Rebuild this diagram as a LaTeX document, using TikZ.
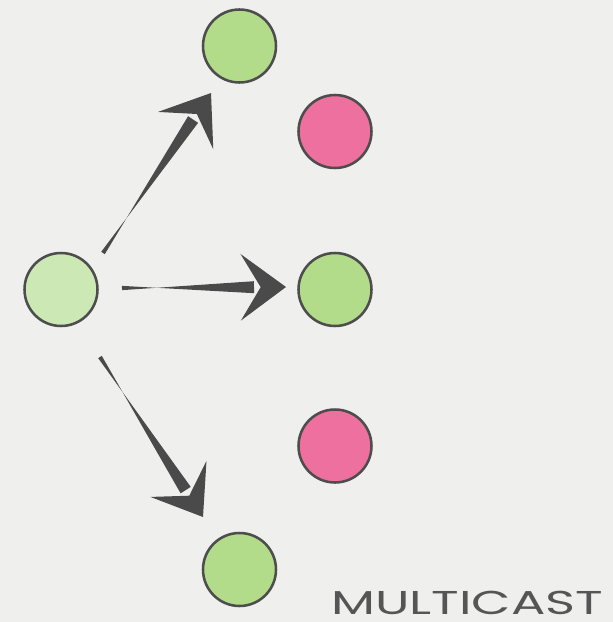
\documentclass[tikz,border=0pt]{standalone}
\usepackage{fontspec}
\newfontfamily\hand{Poppins}
\usetikzlibrary{calc}
\definecolor{bg}{HTML}{EFF0EE}
\definecolor{edge}{HTML}{4D4D4D}
\definecolor{lgreen}{HTML}{CCE8B5}
\definecolor{dgreen}{HTML}{B3DC8A}
\definecolor{pinkc}{HTML}{EE709F}
\definecolor{ink}{HTML}{4A4A4A}
\definecolor{txt}{HTML}{555555}
\begin{document}
\begin{tikzpicture}[x=0.75pt,y=-0.75pt,
  dot/.style={circle, draw=edge, line width=1.9pt, minimum size=54.75pt, inner sep=0pt},
  label/.style={inner sep=0pt, anchor=south west, text=txt}]
\fill[bg] (0,0) rectangle (613,622);
\useasboundingbox (0,0) rectangle (613,622);
\node[dot, fill=lgreen] (src) at (61,289.5) {};
\node[dot, fill=dgreen] (g1) at (239.5,46) {};
\node[dot, fill=pinkc] (p1) at (335,131.5) {};
\node[dot, fill=dgreen] (g2) at (335,289.5) {};
\node[dot, fill=pinkc] (p2) at (335,446) {};
\node[dot, fill=dgreen] (g3) at (239.5,569.5) {};
\coordinate (a1t) at (103,253);
\coordinate (a1h) at (211,93);
\coordinate (a2t) at (122,288);
\coordinate (a2h) at (286,287);
\coordinate (a3t) at (100,357);
\coordinate (a3h) at (203,517);
\foreach \t/\h in {a1t/a1h, a2t/a2h, a3t/a3h}{
  \coordinate (S) at ($(\h)!24pt!(\t)$);
  \coordinate (B) at ($(\h)!34pt!(\t)$);
  \coordinate (N) at ($(\h)!19pt!(\t)$);
  \fill[ink] ($(\t)!1.6pt!90:(\h)$) -- ($(S)!4.5pt!-90:(\h)$) -- ($(S)!4.5pt!90:(\h)$) -- ($(\t)!1.6pt!-90:(\h)$) -- cycle;
  \fill[ink, line join=round] (\h) -- ($(B)!25pt!90:(\h)$) -- (N) -- ($(B)!25pt!-90:(\h)$) -- cycle;
}
\node[label] (title) at (331,615) {\resizebox{204pt}{17.5pt}{\hand MULTICAST}};
\end{tikzpicture}
\end{document}
